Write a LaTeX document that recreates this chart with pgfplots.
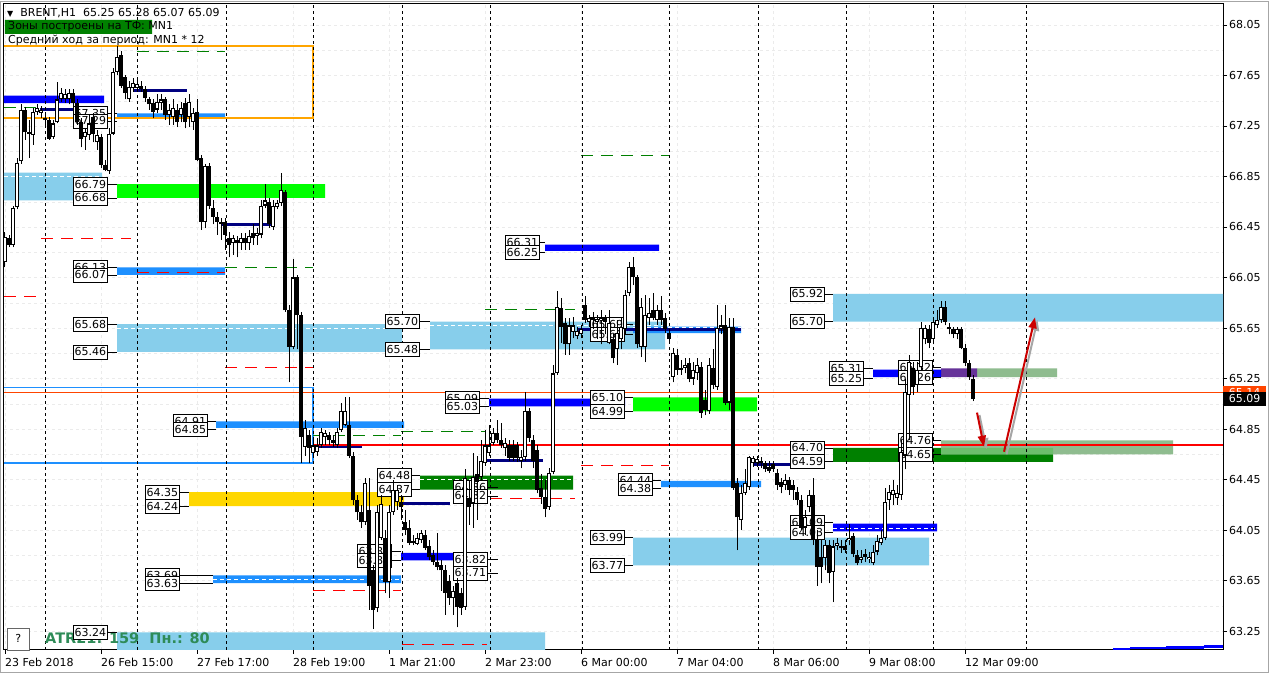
\documentclass[border=0pt]{standalone}
\usepackage{pgfplots}
\pgfplotsset{compat=1.18}
\usepackage{pgfplotstable}
\usepackage{fontspec}
\setmainfont{DejaVu Sans}
\usetikzlibrary{arrows.meta}

\definecolor{skyb}{RGB}{135,206,235}
\definecolor{limeg}{RGB}{0,255,0}
\definecolor{dgreen}{RGB}{0,128,0}
\definecolor{pblue}{RGB}{0,0,255}
\definecolor{dodger}{RGB}{30,144,255}
\definecolor{navyb}{RGB}{0,0,128}
\definecolor{goldy}{RGB}{255,215,0}
\definecolor{orng}{RGB}{255,165,0}
\definecolor{sgreen}{RGB}{143,188,143}
\definecolor{ovgreen}{RGB}{108,190,108}
\definecolor{purp}{RGB}{102,51,153}
\definecolor{ored}{RGB}{255,69,0}
\definecolor{arrred}{RGB}{204,0,0}
\definecolor{atrg}{RGB}{46,139,87}

\pgfplotsset{candle/.style={only marks, mark=*, mark size=0pt, mark options={draw=none, fill=none}, forget plot}}

\newcommand{\fs}{\fontsize{11}{13}\selectfont}
\newcommand{\zone}[5]{\addplot[fill=#1, draw=none, forget plot] coordinates {(#2,#4) (#3,#4) (#3,#5) (#2,#5) (#2,#4)};}
\newcommand{\hl}[4]{\addplot[#1, forget plot] coordinates {(#2,#4) (#3,#4)};}
\newcommand{\vsep}[1]{\addplot[black, line width=0.8pt, dash pattern=on 3pt off 3pt, forget plot] coordinates {(#1,63.10) (#1,68.216)};}
\newcommand{\lab}[4]{\draw[black, line width=0.8pt] (axis cs:#1,#2) -- (axis cs:#4,#2); \node[lab] at (axis cs:#1,#2) {#3};}

\pgfplotstableread{
x o h l c
5 66.17 66.41 66.13 66.37
9 66.36 66.39 66.29 66.31
13 66.31 66.62 66.29 66.60
17 66.61 67.00 66.59 66.96
21 66.97 67.42 66.95 67.38
25 67.38 67.40 67.14 67.20
29 67.20 67.30 67.00 67.19
33 67.18 67.39 67.10 67.36
37 67.36 67.42 67.34 67.39
41 67.35 67.41 67.31 67.38
45 67.31 67.36 67.26 67.30
49 67.30 67.32 67.14 67.15
53 67.16 67.30 67.15 67.27
57 67.28 67.60 67.27 67.46
61 67.46 67.55 67.44 67.51
65 67.46 67.54 67.43 67.50
69 67.46 67.54 67.42 67.51
73 67.51 67.54 67.41 67.43
77 67.43 67.46 67.26 67.28
81 67.28 67.31 67.08 67.15
85 67.16 67.23 67.06 67.20
89 67.18 67.34 67.14 67.27
93 67.32 67.35 67.12 67.19
97 67.12 67.22 67.06 67.18
101 67.16 67.19 66.92 66.94
105 66.94 66.98 66.89 66.90
109 66.89 67.23 66.87 67.19
113 67.19 67.71 67.18 67.68
117 67.68 67.88 67.65 67.80
121 67.81 67.84 67.55 67.57
125 67.64 67.65 67.46 67.51
129 67.46 67.61 67.44 67.56
133 67.55 67.63 67.52 67.59
137 67.55 67.64 67.54 67.58
141 67.57 67.61 67.52 67.54
145 67.54 67.57 67.44 67.47
149 67.46 67.48 67.38 67.42
153 67.43 67.46 67.31 67.36
157 67.38 67.50 67.35 67.44
161 67.43 67.50 67.38 67.46
165 67.46 67.48 67.30 67.34
169 67.34 67.42 67.26 67.38
173 67.32 67.46 67.26 67.39
177 67.38 67.42 67.24 67.28
181 67.34 67.44 67.28 67.39
185 67.43 67.47 67.23 67.28
189 67.32 67.50 67.24 67.44
193 67.28 67.39 67.22 67.35
197 67.36 67.46 66.97 66.98
201 67.00 67.02 66.43 66.49
205 66.49 66.95 66.44 66.93
209 66.93 66.96 66.59 66.62
213 66.60 66.66 66.47 66.53
217 66.53 66.57 66.39 66.49
221 66.49 66.52 66.35 66.47
225 66.49 66.52 66.27 66.39
229 66.36 66.41 66.21 66.31
233 66.32 66.39 66.23 66.36
237 66.35 66.38 66.21 66.32
241 66.32 66.40 66.27 66.36
245 66.36 66.40 66.27 66.32
249 66.32 66.43 66.27 66.38
253 66.40 66.47 66.31 66.36
257 66.38 66.44 66.31 66.40
261 66.39 66.66 66.36 66.62
265 66.62 66.79 66.60 66.66
269 66.65 66.68 66.44 66.47
273 66.45 66.66 66.43 66.62
277 66.61 66.66 66.59 66.64
281 66.64 66.88 66.62 66.74
285 66.73 66.74 65.78 65.79
289 65.79 65.83 65.22 65.50
293 65.50 66.20 65.48 66.05
297 66.05 66.07 65.48 65.75
301 65.75 65.78 64.58 64.79
305 64.71 64.92 64.64 64.86
309 64.80 64.84 64.58 64.70
313 64.66 64.76 64.63 64.72
317 64.67 64.78 64.64 64.72
321 64.72 64.86 64.70 64.83
325 64.79 64.84 64.72 64.82
329 64.80 64.83 64.72 64.76
333 64.76 64.80 64.71 64.74
337 64.72 64.86 64.70 64.83
341 64.84 65.06 64.83 64.99
345 64.88 65.10 64.87 64.99
349 64.88 65.10 64.62 64.64
353 64.64 64.67 64.25 64.29
357 64.29 64.33 64.13 64.19
361 64.19 64.25 64.07 64.11
365 64.11 64.46 64.09 64.42
369 64.21 64.46 63.42 63.61
373 63.73 63.77 63.27 63.42
377 63.43 64.25 63.40 64.19
381 63.99 64.33 63.97 64.26
385 63.99 64.05 63.55 63.64
389 63.64 64.25 63.51 64.19
393 64.19 64.45 64.17 64.37
397 64.27 64.41 64.21 64.37
401 64.27 64.33 64.13 64.23
405 64.11 64.21 64.01 64.05
409 64.07 64.13 63.93 63.95
413 63.95 64.01 63.93 63.96
417 63.94 64.03 63.93 63.99
421 63.97 64.05 63.95 64.03
425 64.01 64.05 63.89 63.91
429 63.92 63.97 63.81 63.84
433 63.85 63.89 63.77 63.80
437 63.80 64.03 63.73 63.76
441 63.77 63.81 63.57 63.73
445 63.73 63.77 63.38 63.55
449 63.65 63.69 63.46 63.51
453 63.51 63.61 63.38 63.57
457 63.63 63.67 63.28 63.44
461 63.55 63.59 63.38 63.43
465 63.44 64.53 63.42 64.46
469 64.30 64.45 64.09 64.23
473 64.26 64.66 64.07 64.47
477 64.49 64.64 64.13 64.43
481 64.47 64.76 64.45 64.60
485 64.58 64.84 64.56 64.72
489 64.66 64.88 64.64 64.72
493 64.74 64.86 64.72 64.82
497 64.82 64.92 64.74 64.76
501 64.76 64.90 64.70 64.72
505 64.70 64.78 64.64 64.74
509 64.72 64.76 64.60 64.62
513 64.72 64.76 64.60 64.62
517 64.72 64.75 64.59 64.62
521 64.60 64.68 64.54 64.63
525 64.63 65.14 64.60 64.99
529 64.99 65.02 64.75 64.78
533 64.76 64.80 64.54 64.60
537 64.68 64.72 64.34 64.37
541 64.38 64.49 64.26 64.31
545 64.31 64.45 64.15 64.22
549 64.23 64.54 64.21 64.50
553 64.51 65.36 64.49 65.29
557 65.29 65.94 65.28 65.82
561 65.81 65.89 65.53 65.66
565 65.69 65.73 65.44 65.52
569 65.52 65.73 65.44 65.67
573 65.62 65.74 65.57 65.67
577 65.59 65.66 65.56 65.63
581 65.60 65.67 65.57 65.64
585 65.83 65.90 65.69 65.71
589 65.70 65.75 65.66 65.73
593 65.73 65.78 65.64 65.71
597 65.70 65.75 65.56 65.72
601 65.71 65.79 65.52 65.73
605 65.73 65.75 65.60 65.70
609 65.53 65.79 65.52 65.69
613 65.56 65.60 65.37 65.41
617 65.48 65.71 65.36 65.61
621 65.56 65.73 65.48 65.66
625 65.64 65.95 65.60 65.91
629 65.93 66.17 65.90 66.13
633 66.13 66.21 65.99 66.05
637 66.05 66.07 65.49 65.52
641 65.50 65.89 65.42 65.82
645 65.50 65.91 65.38 65.75
649 65.73 65.89 65.67 65.77
653 65.79 65.93 65.71 65.73
657 65.71 65.83 65.67 65.79
661 65.79 65.90 65.67 65.71
665 65.73 65.77 65.61 65.64
669 65.61 65.64 65.53 65.56
673 65.26 65.49 65.22 65.45
677 65.44 65.48 65.28 65.32
681 65.33 65.40 65.28 65.32
685 65.33 65.41 65.29 65.36
689 65.37 65.41 65.22 65.25
693 65.25 65.38 65.20 65.32
697 65.29 65.41 65.24 65.36
701 65.34 65.38 64.94 64.98
705 65.08 65.16 64.96 65.00
709 64.99 65.41 64.97 65.36
713 65.33 65.48 65.17 65.20
717 65.18 65.83 65.16 65.65
721 65.64 65.75 65.60 65.67
725 65.67 65.83 65.04 65.06
729 65.06 65.73 65.00 65.66
733 65.66 65.73 64.37 64.38
737 64.42 64.46 63.89 64.15
741 64.13 64.41 64.05 64.34
745 64.34 64.53 64.33 64.42
749 64.39 64.64 64.37 64.63
753 64.58 64.64 64.55 64.62
757 64.58 64.64 64.55 64.61
761 64.60 64.63 64.54 64.58
765 64.58 64.60 64.51 64.53
769 64.55 64.60 64.50 64.52
773 64.57 64.60 64.51 64.53
777 64.50 64.53 64.37 64.41
781 64.43 64.46 64.34 64.39
785 64.41 64.49 64.37 64.45
789 64.45 64.47 64.33 64.37
793 64.41 64.45 64.29 64.37
797 64.35 64.39 64.25 64.29
801 64.29 64.33 64.05 64.07
805 64.07 64.21 64.01 64.15
809 64.23 64.37 64.19 64.33
813 64.33 64.46 63.93 63.97
817 63.97 64.05 63.61 63.76
821 63.84 63.97 63.63 63.76
825 63.83 63.97 63.73 63.93
829 63.93 63.97 63.63 63.71
833 63.72 63.97 63.48 63.92
837 63.92 63.99 63.89 63.95
841 63.91 63.97 63.87 63.92
845 63.92 63.97 63.87 63.89
849 63.97 64.10 63.93 63.99
853 64.00 64.03 63.84 63.86
857 63.85 63.89 63.77 63.79
861 63.81 63.89 63.79 63.84
865 63.86 63.90 63.80 63.84
869 63.82 63.88 63.79 63.84
873 63.79 63.93 63.77 63.88
877 63.88 64.01 63.85 63.96
881 63.95 64.05 63.93 63.99
885 63.99 64.38 63.97 64.27
889 64.29 64.41 64.21 64.35
893 64.33 64.45 64.25 64.37
897 64.30 64.41 64.25 64.34
901 64.33 64.76 64.29 64.67
905 64.64 65.25 64.53 65.14
909 65.12 65.44 64.76 65.38
913 65.33 65.38 65.12 65.18
917 65.20 65.38 65.14 65.32
921 65.34 65.70 65.32 65.65
925 65.56 65.67 65.52 65.65
929 65.64 65.67 65.49 65.53
933 65.56 65.73 65.52 65.70
937 65.67 65.79 65.65 65.71
941 65.71 65.86 65.69 65.82
945 65.82 65.86 65.67 65.70
949 65.66 65.69 65.60 65.64
953 65.64 65.66 65.57 65.60
957 65.60 65.66 65.56 65.64
961 65.64 65.66 65.48 65.49
965 65.49 65.52 65.35 65.37
969 65.37 65.40 65.24 65.26
973 65.25 65.28 65.07 65.09
}\candles

\begin{document}
\begin{tikzpicture}[
  lab/.style={draw=black, fill=white, line width=0.8pt, inner xsep=1.2pt, inner ysep=0pt,
    minimum height=14pt, text height=8pt, text depth=0pt, anchor=west, font=\fs},
  rdash/.style={red, line width=1pt, dash pattern=on 12pt off 8pt},
  gdash/.style={dgreen, line width=1pt, dash pattern=on 12pt off 8pt},
  wdash/.style={white, line width=1pt, dash pattern=on 4pt off 3pt},
  nv/.style={navyb, line width=3pt}]
\begin{axis}[
  scale only axis, width=1219pt, height=646pt,
  xmin=4, xmax=1223, ymin=63.10, ymax=68.216,
  axis background/.style={fill=white},
  axis line style={black, line width=1pt},
  clip mode=individual,
  xtick={5,101,197,293,389,485,581,677,773,869,965},
  xticklabels={23 Feb 2018,26 Feb 15:00,27 Feb 17:00,28 Feb 19:00,1 Mar 21:00,2 Mar 23:00,6 Mar 00:00,7 Mar 04:00,8 Mar 06:00,9 Mar 08:00,12 Mar 09:00},
  ytick={63.25,63.65,64.05,64.45,64.85,65.25,65.65,66.05,66.45,66.85,67.25,67.65,68.05},
  yticklabels={63.25,63.65,64.05,64.45,64.85,65.25,65.65,66.05,66.45,66.85,67.25,67.65,68.05},
  minor ytick={63.45,63.85,64.25,64.65,65.05,65.45,65.85,66.25,66.65,67.05,67.45,67.85},
  xtick pos=left, ytick pos=right, yticklabel pos=right, xticklabel pos=left,
  tick align=outside, major tick length=4pt, minor tick length=0pt,
  tick style={black, line width=0.8pt},
  ticklabel style={font=\fs},
  xticklabel style={anchor=north west, inner sep=0pt, yshift=-4pt},
  yticklabel style={anchor=west, inner sep=0pt, xshift=2pt},
  ymajorgrids, yminorgrids, xmajorgrids,
  major grid style={black!8, dash pattern=on 3pt off 3pt},
  minor grid style={black!8, dash pattern=on 3pt off 3pt},
]
% ---- zones
\zone{skyb}{4}{102}{66.88}{66.66}
\zone{skyb}{117}{402}{65.68}{65.46}
\zone{skyb}{430}{665}{65.70}{65.48}
\zone{skyb}{833}{1223}{65.92}{65.70}
\zone{skyb}{633}{929}{63.99}{63.77}
\zone{skyb}{117}{545}{63.24}{63.00}
\zone{limeg}{117}{325}{66.79}{66.68}
\zone{limeg}{633}{757}{65.10}{64.99}
\zone{dgreen}{420}{573}{64.48}{64.37}
\zone{dgreen}{833}{1053}{64.70}{64.59}
\zone{sgreen}{941}{1173}{64.76}{64.65}
\zone{ovgreen}{941}{1053}{64.70}{64.65}
\zone{sgreen}{977}{1057}{65.33}{65.26}
\zone{purp}{941}{977}{65.33}{65.26}
\zone{goldy}{189}{404}{64.35}{64.24}
\zone{pblue}{4}{104}{67.49}{67.43}
\zone{pblue}{545}{659}{66.31}{66.26}
\zone{pblue}{489}{625}{65.09}{65.03}
\zone{pblue}{401}{453}{63.87}{63.81}
\zone{pblue}{873}{941}{65.32}{65.26}
\zone{pblue}{833}{937}{64.10}{64.04}
\zone{dodger}{117}{225}{67.35}{67.31}
\zone{dodger}{117}{225}{66.13}{66.07}
\zone{dodger}{216}{404}{64.91}{64.86}
\zone{dodger}{213}{401}{63.69}{63.63}
\zone{dodger}{661}{761}{64.44}{64.39}
\zone{dodger}{633}{741}{65.66}{65.61}
% ---- rectangle outlines
\addplot[orng, line width=2pt, forget plot] coordinates {(4,67.88) (313,67.88) (313,67.31) (4,67.31)};
\addplot[dodger, line width=1.5pt, forget plot] coordinates {(4,65.18) (313,65.18) (313,64.58) (4,64.58)};
% ---- level lines
\hl{nv}{40}{75}{67.38}
\hl{nv}{133}{187}{67.53}
\hl{nv}{221}{275}{66.47}
\hl{nv}{313}{362}{64.71}
\hl{nv}{400}{450}{64.26}
\hl{nv}{485}{543}{64.60}
\hl{nv}{577}{741}{65.64}
\hl{nv}{753}{790}{64.57}
\hl{red, line width=2pt}{313}{1223}{64.72}
\hl{ored, line width=1pt}{4}{1223}{65.14}
\hl{rdash}{4}{40}{65.90}
\hl{rdash}{41}{131}{66.36}
\hl{rdash}{137}{225}{66.09}
\hl{rdash}{225}{313}{65.34}
\hl{rdash}{313}{401}{63.57}
\hl{rdash}{402}{487}{63.14}
\hl{rdash}{490}{575}{64.30}
\hl{rdash}{581}{669}{64.56}
\hl{gdash}{137}{225}{67.84}
\hl{gdash}{4}{40}{67.40}
\hl{gdash}{225}{313}{66.13}
\hl{gdash}{313}{401}{64.80}
\hl{gdash}{401}{485}{64.83}
\hl{gdash}{485}{575}{65.80}
\hl{gdash}{581}{669}{67.02}
\hl{wdash}{4}{102}{66.85}
\hl{wdash}{117}{402}{65.65}
\hl{wdash}{430}{665}{65.67}
\hl{wdash}{420}{573}{64.45}
\hl{wdash}{213}{401}{63.66}
\hl{wdash}{833}{937}{64.06}
\hl{wdash}{633}{741}{65.655}
\hl{pblue, line width=2pt}{1113}{1130}{63.11}
\hl{pblue, line width=2pt}{1130}{1166}{63.115}
\hl{pblue, line width=2.5pt}{1166}{1204}{63.12}
\hl{pblue, line width=3pt}{1204}{1223}{63.125}
% ---- day separators
\vsep{45}\vsep{137}\vsep{226}\vsep{313}\vsep{402}\vsep{490}
\vsep{582}\vsep{669}\vsep{758}\vsep{846}\vsep{933}\vsep{1026}
% ---- bottom-left info
\node[anchor=west, font=\fontsize{14.5}{16}\selectfont\bfseries, text=atrg, inner sep=0pt] at (axis cs:45,63.19) {ATR21: 159\ \ Пн.: 80};
\node[draw=black!60, fill=white, minimum width=22pt, minimum height=22pt, inner sep=0pt, font=\fs, anchor=south west] at (axis cs:7,63.10) {?};
% ---- price labels
\lab{73}{67.35}{67.35}{117}\lab{73}{67.29}{67.29}{117}
\lab{73}{66.79}{66.79}{117}\lab{73}{66.68}{66.68}{117}
\lab{73}{66.13}{66.13}{117}\lab{73}{66.07}{66.07}{117}
\lab{73}{65.68}{65.68}{117}\lab{73}{65.46}{65.46}{117}
\lab{73}{63.24}{63.24}{117}
\lab{145}{64.35}{64.35}{189}\lab{145}{64.24}{64.24}{189}
\lab{145}{63.69}{63.69}{213}\lab{145}{63.63}{63.63}{213}
\lab{173}{64.91}{64.91}{216}\lab{173}{64.85}{64.85}{216}
\lab{357}{63.88}{63.87}{401}\lab{357}{63.81}{63.81}{401}
\lab{377}{64.48}{64.48}{420}\lab{377}{64.37}{64.37}{420}
\lab{385}{65.70}{65.70}{430}\lab{385}{65.48}{65.48}{430}
\lab{445}{65.09}{65.09}{489}\lab{445}{65.03}{65.03}{489}
\lab{453}{64.39}{64.36}{498}\lab{453}{64.32}{64.32}{498}
\lab{453}{63.82}{63.82}{498}\lab{453}{63.71}{63.71}{498}
\lab{505}{66.33}{66.31}{545}\lab{505}{66.25}{66.25}{545}
\lab{590}{65.68}{65.69}{633}\lab{590}{65.60}{65.60}{633}
\lab{590}{65.10}{65.10}{633}\lab{590}{64.99}{64.99}{633}
\lab{618}{64.44}{64.44}{661}\lab{618}{64.38}{64.38}{661}
\lab{590}{63.99}{63.99}{633}\lab{590}{63.77}{63.77}{633}
\lab{790}{65.92}{65.92}{833}\lab{790}{65.70}{65.70}{833}
\lab{790}{64.70}{64.70}{833}\lab{790}{64.59}{64.59}{833}
\lab{790}{64.11}{64.09}{833}\lab{790}{64.03}{64.03}{833}
\lab{829}{65.33}{65.31}{873}\lab{829}{65.25}{65.25}{873}
\lab{898}{65.34}{65.32}{941}\lab{898}{65.26}{65.26}{941}
\lab{898}{64.76}{64.76}{941}\lab{898}{64.65}{64.65}{941}
% ---- candles
\addplot[candle, error bars/.cd, y dir=plus, y explicit, error mark=none,
  error bar style={draw=black, line width=1pt, solid}]
  table[x=x, y=l, y error plus expr={\thisrow{h}-\thisrow{l}}] {\candles};
\addplot[candle, error bars/.cd, y dir=plus, y explicit, error mark=none,
  error bar style={draw=black, line width=3.3pt, solid}]
  table[x=x, y expr={min(\thisrow{o},\thisrow{c})}, y error plus expr={max(abs(\thisrow{o}-\thisrow{c}),0.009)}] {\candles};
\addplot[candle, restrict expr to domain={\thisrow{c}-\thisrow{o}}{0.02:100},
  error bars/.cd, y dir=plus, y explicit, error mark=none,
  error bar style={draw=white, line width=1.3pt, solid}]
  table[x=x, y expr={\thisrow{o}+0.0085}, y error plus expr={\thisrow{c}-\thisrow{o}-0.017}] {\candles};
% ---- arrows
\addplot[-{Triangle[length=11pt,width=8pt]}, black!35, line width=2pt, forget plot] coordinates {(979.5,64.96) (986.5,64.69)};
\addplot[-{Triangle[length=11pt,width=8pt]}, arrred, line width=2pt, forget plot] coordinates {(977,64.98) (984,64.71)};
\addplot[-{Triangle[length=11pt,width=8pt]}, black!35, line width=2pt, forget plot] coordinates {(1006.5,64.65) (1037.5,65.715)};
\addplot[-{Triangle[length=11pt,width=8pt]}, arrred, line width=2pt, forget plot] coordinates {(1004,64.67) (1035,65.735)};
% ---- top-left text
\zone{dgreen}{5}{152}{68.09}{67.98}
\node[anchor=west, inner sep=0pt, font=\fs] at (axis cs:7,68.145) {{\fontsize{8}{8}\selectfont ▼}\ \ BRENT,H1\ \ 65.25 65.28 65.07 65.09};
\node[anchor=west, inner sep=0pt, font=\fs] at (axis cs:8,68.034) {Зоны построены на ТФ: MN1};
\node[anchor=west, inner sep=0pt, font=\fs] at (axis cs:8,67.93) {Средний ход за период: MN1 * 12};
% ---- right price tags
\node[fill=ored, text=white, anchor=west, minimum width=43pt, minimum height=13pt, inner sep=0pt, text height=8pt, text depth=0pt, font=\fs] at (axis cs:1223,65.14) {65.14};
\node[fill=black, text=white, anchor=west, minimum width=43pt, minimum height=14pt, inner sep=0pt, text height=8pt, text depth=0pt, font=\fs] at (axis cs:1223,65.09) {65.09};
\end{axis}
\draw[black!35, line width=1pt] (-3.5pt,-23pt) rectangle (1264.5pt,648pt);
\pgfresetboundingbox
\path[use as bounding box] (-4pt,-26pt) rectangle (1267pt,650pt);
\end{tikzpicture}
\end{document}
